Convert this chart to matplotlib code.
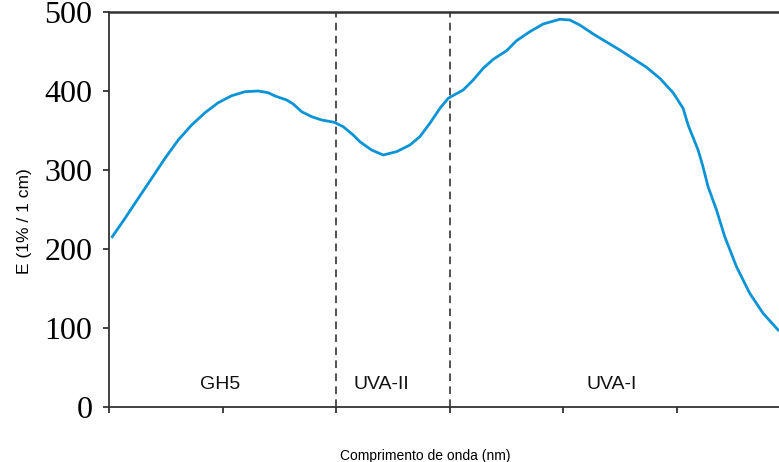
import matplotlib.pyplot as plt

# absorbance curve (wavelength nm, E 1%/1cm)
wavelength = [280.58, 282.82, 285.16, 287.52, 289.86, 292.20, 294.56, 296.90, 299.24, 301.60,
              303.94, 306.29, 308.05, 309.23, 311.29, 312.45, 313.93, 315.69, 317.45, 319.67,
              321.25, 323.01, 324.19, 326.25, 328.29, 330.65, 332.99, 334.75, 336.51, 338.28,
              339.74, 342.38, 344.14, 345.90, 347.66, 350.02, 351.78, 354.12, 356.46, 359.40,
              361.16, 362.92, 365.27, 369.96, 374.67, 377.01, 379.35, 381.11, 381.99, 383.75,
              384.53, 385.51, 386.99, 388.45, 390.51, 392.85, 395.20, 397.84]
absorb = [215.6, 238.9, 264.2, 289.5, 314.8, 338.0, 357.0, 372.5, 385.2, 394.0,
          399.1, 400.0, 397.8, 393.7, 388.6, 383.5, 373.8, 367.5, 363.3, 360.4,
          354.8, 344.3, 335.8, 325.3, 319.0, 323.2, 331.6, 342.2, 359.1, 378.1,
          390.8, 401.3, 413.9, 428.7, 440.1, 451.0, 463.7, 475.1, 484.8, 490.8,
          489.9, 483.5, 472.2, 451.9, 430.0, 416.1, 397.8, 378.1, 357.0, 325.3,
          306.3, 278.9, 249.4, 215.6, 177.6, 143.9, 118.6, 97.5]

bounds = [320, 340]
regions = ['GH5', 'UVA-II', 'UVA-I']
region_x = [299.5, 328, 368.6]
region_y = 29

fig = plt.figure(figsize=(7.79, 4.62), dpi=100)
ax = fig.add_axes([109 / 779, 55 / 462, 670 / 779, 395 / 462])

ax.plot(wavelength, absorb, color='#0a94d6', lw=2.0, solid_joinstyle='round')
for b in bounds:
    ax.axvline(b, color='#222222', lw=1.1, ls=(0, (5, 3.5)))
for name, x in zip(regions, region_x):
    ax.text(x, region_y, name, ha='center', va='center', fontsize=14,
            family='Liberation Sans', color='#111111')

ax.set_xlim(280, 398)
ax.set_ylim(0, 500)
ax.set_xticks(range(280, 400, 20))
ax.set_xticklabels([])
ax.set_yticks(range(0, 501, 100))
ax.tick_params(axis='y', labelsize=23, length=4, width=1.2, pad=8, colors='#222222')
ax.tick_params(axis='x', length=4.5, width=1.2, colors='#222222')
for lab in ax.get_yticklabels():
    lab.set_family('Liberation Serif')
    lab.set_color('black')

ax.spines['right'].set_visible(False)
for s in ['left', 'bottom', 'top']:
    ax.spines[s].set_color('#333333')
    ax.spines[s].set_linewidth(1.3)
ax.spines['top'].set_linewidth(1.8)

ax.set_ylabel('E (1% / 1 cm)', fontsize=12.5, family='Liberation Sans')
ax.yaxis.set_label_coords(-0.115, 0.47)
ax.set_xlabel('Comprimento de onda (nm)', fontsize=10, family='Liberation Sans')
ax.xaxis.set_label_coords(0.472, -0.106)

fig.savefig('out.png', dpi=100)
